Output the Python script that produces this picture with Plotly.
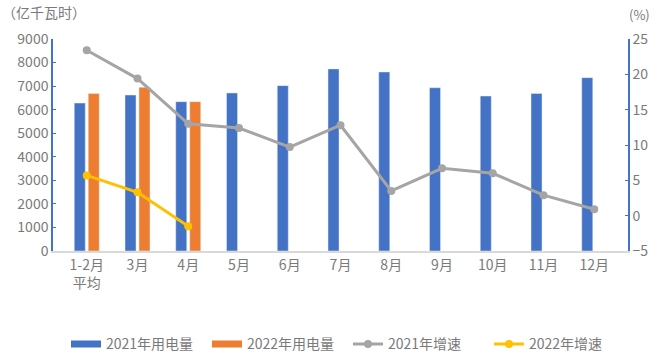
import plotly.graph_objects as go

categories = ["1-2月<br>平均", "3月", "4月", "5月", "6月", "7月", "8月", "9月", "10月", "11月", "12月"]
use_2021 = [6280, 6620, 6340, 6710, 7020, 7730, 7600, 6930, 6580, 6690, 7360]
use_2022 = [6690, 6950, 6340, None, None, None, None, None, None, None, None]
growth_2021 = [23.4, 19.4, 13.0, 12.4, 9.7, 12.8, 3.5, 6.7, 6.0, 2.9, 0.9]
growth_2022 = [5.7, 3.3, -1.5, None, None, None, None, None, None, None, None]

font_family = "Noto Sans CJK SC, Noto Sans, sans-serif"
txt = "#7A7A7A"
c21, c22, g21, g22 = "#4472C4", "#ED7D31", "#A5A5A5", "#FFC000"

fig = go.Figure()
fig.add_trace(go.Bar(x=categories, y=use_2021, name="2021年用电量", marker_color=c21,
                     yaxis="y", showlegend=False))
fig.add_trace(go.Bar(x=categories, y=use_2022, name="2022年用电量", marker_color=c22,
                     yaxis="y", showlegend=False))
fig.add_trace(go.Scatter(x=categories, y=growth_2021, name="2021年增速", mode="lines+markers",
                         line=dict(color=g21, width=3), marker=dict(size=8, color=g21),
                         yaxis="y2", legendrank=3))
fig.add_trace(go.Scatter(x=categories, y=growth_2022, name="2022年增速", mode="lines+markers",
                         line=dict(color=g22, width=3), marker=dict(size=8, color=g22),
                         yaxis="y2", legendrank=4))
# legend proxies with wide rectangle swatches for the bar series
fig.add_trace(go.Scatter(x=[None], y=[None], name="2021年用电量", mode="lines",
                         line=dict(color=c21, width=7), legendrank=1, hoverinfo="skip"))
fig.add_trace(go.Scatter(x=[None], y=[None], name="2022年用电量", mode="lines",
                         line=dict(color=c22, width=7), legendrank=2, hoverinfo="skip"))

fig.update_layout(
    width=672, height=356,
    margin=dict(l=53, r=44, t=39, b=105, autoexpand=False),
    paper_bgcolor="white", plot_bgcolor="white",
    font=dict(family=font_family, size=14, color=txt),
    barmode="group", bargap=0.45, bargroupgap=0.21,
    showlegend=True,
    legend=dict(orientation="h", x=(66 - 53) / 575, xanchor="left", y=-0.44, yanchor="middle",
                font=dict(size=14, color=txt), itemwidth=30, entrywidth=96,
                entrywidthmode="pixels", traceorder="normal"),
    xaxis=dict(showgrid=False, showline=True, linecolor="#D9D9D9", linewidth=1.5,
               ticks="", tickfont=dict(size=14, color=txt), automargin=False),
    yaxis=dict(range=[0, 9000], dtick=1000, showgrid=False, showline=True,
               linecolor=c21, linewidth=1.5, ticks="inside", ticklen=3, tickcolor=c21,
               tickfont=dict(size=14, color=txt), zeroline=False, automargin=False),
    yaxis2=dict(range=[-5, 25], dtick=5, overlaying="y", side="right", showgrid=False,
                showline=True, linecolor=c21, linewidth=1.5, ticks="inside", ticklen=3,
                tickcolor=c21, tickfont=dict(size=14, color=txt), zeroline=False,
                automargin=False),
    annotations=[
        dict(text="（亿千瓦时）", xref="paper", yref="paper", x=-0.092, y=1.0, yshift=27,
             xanchor="left", yanchor="middle", showarrow=False, font=dict(size=14, color=txt)),
        dict(text="(%)", xref="paper", yref="paper", x=1.0, y=1.0, yshift=25, xshift=-1,
             xanchor="left", yanchor="middle", showarrow=False, font=dict(size=13, color=txt)),
    ],
)

fig.write_html("out.html", config={"displayModeBar": False},
               post_script="document.body.style.margin='0';document.body.style.overflow='hidden';")
